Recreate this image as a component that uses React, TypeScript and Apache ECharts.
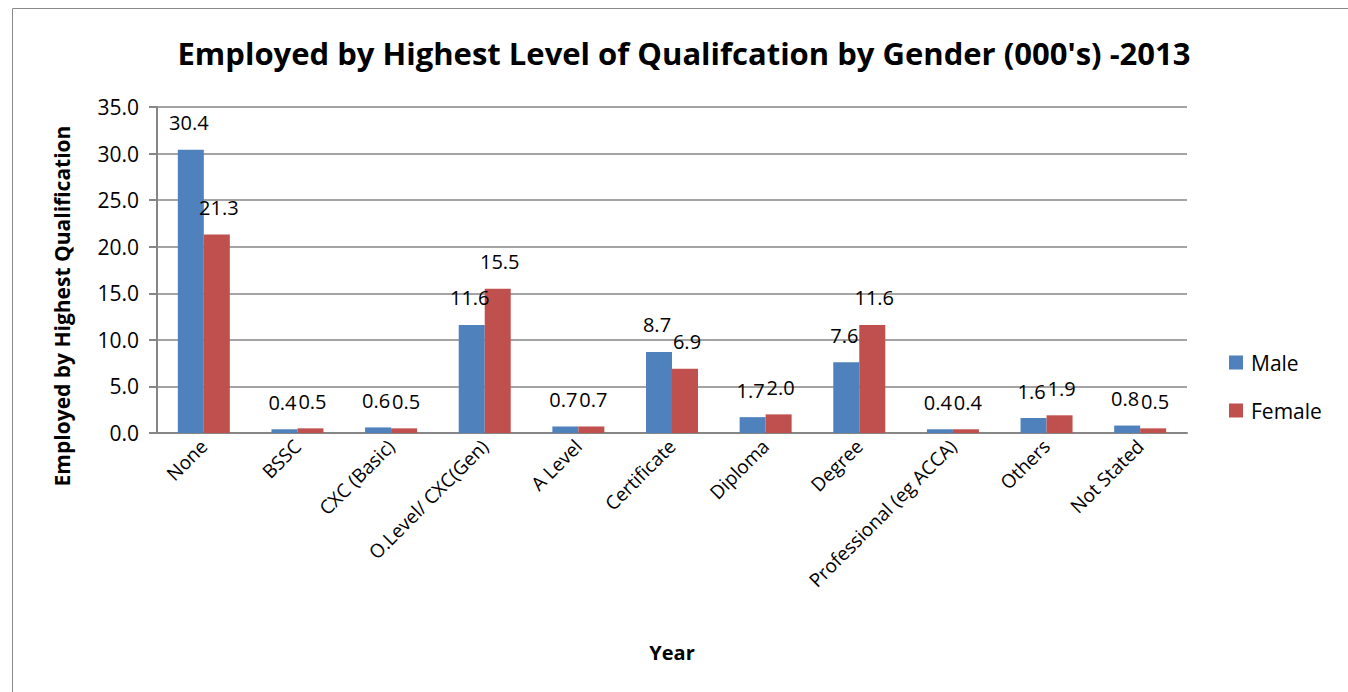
import React, { useEffect, useRef } from "react";
import * as echarts from "echarts";

const categories = [
  "None",
  "BSSC",
  "CXC (Basic)",
  "O.Level/ CXC(Gen)",
  "A Level",
  "Certificate",
  "Diploma",
  "Degree",
  "Professional (eg ACCA)",
  "Others",
  "Not Stated",
];
const maleValues = [30.4, 0.4, 0.6, 11.6, 0.7, 8.7, 1.7, 7.6, 0.4, 1.6, 0.8];
const femaleValues = [21.3, 0.5, 0.5, 15.5, 0.7, 6.9, 2.0, 11.6, 0.4, 1.9, 0.5];
const seriesNames = ["Male", "Female"];

const FONT = "'Open Sans', 'Noto Sans', sans-serif";

export default function App() {
  const ref = useRef<HTMLDivElement>(null);
  useEffect(() => {
    if (!ref.current) return;
    const chart = echarts.init(ref.current, null, { renderer: "svg" });
    const makeLabel = (dx: number) => ({
      show: true,
      position: "top" as const,
      distance: 17,
      offset: [dx, 0],
      fontFamily: FONT,
      fontSize: 20,
      color: "#000",
      formatter: (p: any) => Number(p.value).toFixed(1),
    });
    chart.setOption({
      animation: false,
      backgroundColor: "#fff",
      textStyle: { fontFamily: FONT },
      graphic: [
        {
          type: "rect",
          shape: { x: 12.5, y: 8.5, width: 1400, height: 800 },
          style: { fill: "none", stroke: "#8a8a8a", lineWidth: 1 },
          silent: true,
        },
        {
          type: "text",
          x: 684,
          y: 53,
          style: {
            text: "Employed by Highest Level of Qualifcation by Gender (000's) -2013",
            font: `bold 31px ${FONT}`,
            fill: "#000",
            align: "center",
            verticalAlign: "middle",
          },
        },
        {
          type: "text",
          x: 62,
          y: 306,
          rotation: Math.PI / 2,
          style: {
            text: "Employed by Highest Qualification",
            font: `bold 21px ${FONT}`,
            fill: "#000",
            align: "center",
            verticalAlign: "middle",
          },
        },
        {
          type: "text",
          x: 672,
          y: 652,
          style: {
            text: "Year",
            font: `bold 20px ${FONT}`,
            fill: "#000",
            align: "center",
            verticalAlign: "middle",
          },
        },
      ],
      legend: {
        orient: "vertical",
        left: 1229,
        top: 352,
        padding: 0,
        itemWidth: 14,
        itemHeight: 14,
        itemGap: 27,
        icon: "rect",
        textStyle: { fontFamily: FONT, fontSize: 21, color: "#000", padding: [0, 0, 0, 3] },
        data: seriesNames,
      },
      grid: { left: 157, top: 107, width: 1030, height: 326, containLabel: false },
      xAxis: {
        type: "category",
        data: categories,
        axisLine: { lineStyle: { color: "#868686", width: 2 } },
        axisTick: { show: false },
        axisLabel: {
          rotate: 45,
          interval: 0,
          margin: 10,
          fontFamily: FONT,
          fontSize: 19,
          color: "#000",
        },
      },
      yAxis: {
        type: "value",
        min: 0,
        max: 35,
        interval: 5,
        axisLine: { show: true, lineStyle: { color: "#868686", width: 2 } },
        axisTick: { show: true, length: 8, lineStyle: { color: "#868686", width: 2 } },
        splitLine: { lineStyle: { color: "#868686", width: 1.5 } },
        axisLabel: {
          formatter: (v: number) => v.toFixed(1),
          margin: 18,
          fontFamily: FONT,
          fontSize: 21,
          color: "#000",
        },
      },
      series: [
        {
          name: seriesNames[0],
          type: "bar",
          data: maleValues,
          itemStyle: { color: "#4F81BD" },
          barWidth: 26,
          barGap: "0%",
          label: makeLabel(-2),
        },
        {
          name: seriesNames[1],
          type: "bar",
          data: femaleValues,
          itemStyle: { color: "#C0504D" },
          barWidth: 26,
          barGap: "0%",
          label: makeLabel(2),
        },
      ],
    });
    return () => chart.dispose();
  }, []);
  return (
    <div
      ref={ref}
      style={{ position: "absolute", left: 0, top: 0, width: 1348, height: 692 }}
    />
  );
}
